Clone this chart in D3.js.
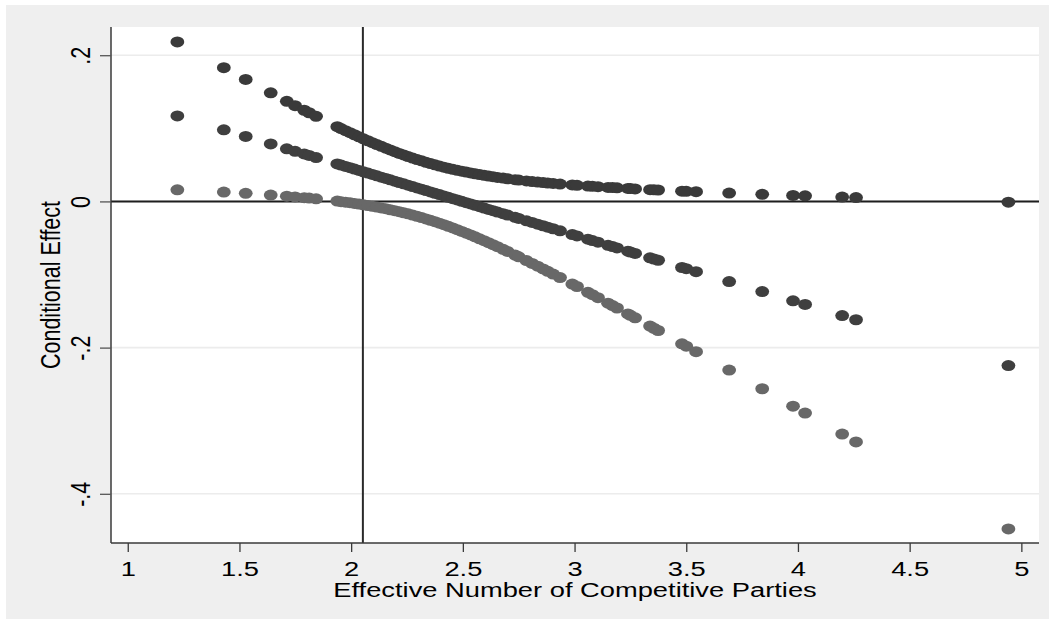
<!DOCTYPE html>
<html>
<head>
<meta charset="utf-8">
<script src="https://cdn.jsdelivr.net/npm/d3@7"></script>
<style>
  html, body { margin: 0; padding: 0; background: #ffffff; }
  svg { display: block; }
  text { font-family: "Liberation Sans", Arial, Helvetica, sans-serif; fill: #000; }
</style>
</head>
<body>
<div id="chart"></div>
<script>
// ---- data ----
const enp = [
  1.222, 1.430, 1.528, 1.640, 1.712, 1.749, 1.790, 1.812, 1.843, 1.938,
  1.955, 1.975, 1.995, 2.015, 2.035, 2.055, 2.075, 2.095, 2.115, 2.135,
  2.155, 2.175, 2.195, 2.215, 2.235, 2.255, 2.275, 2.295, 2.315, 2.335,
  2.355, 2.375, 2.395, 2.415, 2.435, 2.455, 2.475, 2.495, 2.515, 2.535,
  2.555, 2.575, 2.595, 2.615, 2.635, 2.655,
  2.680, 2.700, 2.734, 2.750, 2.785, 2.810, 2.835, 2.859, 2.880, 2.904,
  2.935, 2.990, 3.011, 3.060, 3.080, 3.105, 3.150, 3.170, 3.190, 3.239,
  3.250, 3.271, 3.338, 3.355, 3.374, 3.481, 3.500, 3.544, 3.692, 3.840,
  3.978, 4.032, 4.198, 4.260, 4.942
];
const upperBound = [
  0.2181, 0.1830, 0.1668, 0.1485, 0.1369, 0.1310, 0.1247, 0.1213, 0.1164, 0.1022,
  0.0997, 0.0968, 0.0940, 0.0912, 0.0884, 0.0856, 0.0830, 0.0804, 0.0778, 0.0753,
  0.0728, 0.0704, 0.0681, 0.0657, 0.0636, 0.0614, 0.0593, 0.0573, 0.0555, 0.0535,
  0.0518, 0.0500, 0.0484, 0.0469, 0.0453, 0.0439, 0.0426, 0.0413, 0.0401, 0.0389,
  0.0377, 0.0367, 0.0357, 0.0347, 0.0338, 0.0328,
  0.0319, 0.0310, 0.0298, 0.0292, 0.0280, 0.0272, 0.0264, 0.0258, 0.0252, 0.0246,
  0.0238, 0.0225, 0.0220, 0.0210, 0.0206, 0.0201, 0.0192, 0.0189, 0.0186, 0.0177,
  0.0175, 0.0171, 0.0161, 0.0159, 0.0156, 0.0140, 0.0138, 0.0133, 0.0114, 0.0097,
  0.0082, 0.0077, 0.0059, 0.0053, -0.0010
];
const effect = [
  0.1170, 0.0979, 0.0889, 0.0786, 0.0720, 0.0686, 0.0649, 0.0629, 0.0600, 0.0513,
  0.0497, 0.0479, 0.0461, 0.0442, 0.0424, 0.0405, 0.0387, 0.0369, 0.0350, 0.0332,
  0.0314, 0.0295, 0.0277, 0.0258, 0.0240, 0.0222, 0.0203, 0.0185, 0.0167, 0.0148,
  0.0130, 0.0111, 0.0093, 0.0075, 0.0056, 0.0038, 0.0020, 0.0001, -0.0017, -0.0035,
  -0.0054, -0.0072, -0.0090, -0.0109, -0.0127, -0.0146,
  -0.0168, -0.0187, -0.0218, -0.0233, -0.0265, -0.0288, -0.0311, -0.0333, -0.0352, -0.0374,
  -0.0402, -0.0453, -0.0472, -0.0517, -0.0535, -0.0558, -0.0600, -0.0618, -0.0636, -0.0681,
  -0.0692, -0.0711, -0.0772, -0.0788, -0.0805, -0.0904, -0.0921, -0.0961, -0.1097, -0.1233,
  -0.1360, -0.1409, -0.1562, -0.1619, -0.2245
];
const lowerBound = [
  0.0159, 0.0128, 0.0110, 0.0087, 0.0071, 0.0062, 0.0051, 0.0045, 0.0036, 0.0004,
  -0.0003, -0.0010, -0.0018, -0.0028, -0.0036, -0.0046, -0.0056, -0.0066, -0.0078, -0.0089,
  -0.0100, -0.0114, -0.0127, -0.0141, -0.0156, -0.0170, -0.0187, -0.0203, -0.0221, -0.0239,
  -0.0258, -0.0278, -0.0298, -0.0319, -0.0341, -0.0363, -0.0386, -0.0411, -0.0435, -0.0459,
  -0.0485, -0.0511, -0.0537, -0.0565, -0.0592, -0.0620,
  -0.0655, -0.0684, -0.0734, -0.0758, -0.0810, -0.0848, -0.0886, -0.0924, -0.0956, -0.0994,
  -0.1042, -0.1131, -0.1164, -0.1244, -0.1276, -0.1317, -0.1392, -0.1425, -0.1458, -0.1539,
  -0.1559, -0.1593, -0.1705, -0.1735, -0.1766, -0.1948, -0.1980, -0.2055, -0.2308, -0.2563,
  -0.2802, -0.2895, -0.3183, -0.3291, -0.4480
];
const xTicks = [1, 1.5, 2, 2.5, 3, 3.5, 4, 4.5, 5];
const xTickLabels = ["1", "1.5", "2", "2.5", "3", "3.5", "4", "4.5", "5"];
const yTicks = [0.2, 0, -0.2, -0.4];
const yTickLabels = [".2", "0", "-.2", "-.4"];
const vLineAt = 2.0525;
const hLineAt = 0;
const xTitle = "Effective Number of Competitive Parties";
const yTitle = "Conditional Effect";

// ---- layout ----
const W = 1055, H = 624;
const plot = { left: 111, right: 1039, top: 27, bottom: 543 };
const stretchX = 1.40;   // horizontal text stretch seen in the reference
const fontX = 19.5;
const stretchY = 1.30;   // for rotated text
const fontY = 21.5;

const svg = d3.select("#chart").append("svg").attr("width", W).attr("height", H);

svg.append("rect").attr("x", 6).attr("y", 5).attr("width", W - 12).attr("height", H - 10)
  .attr("fill", "#efefef");
svg.append("rect").attr("x", plot.left).attr("y", plot.top)
  .attr("width", plot.right - plot.left).attr("height", plot.bottom - plot.top)
  .attr("fill", "#ffffff");

const x = d3.scaleLinear().domain([0.925, 5.079]).range([plot.left, plot.right]);
const y = d3.scaleLinear().domain([-0.4673, 0.2386]).range([plot.bottom, plot.top]);

// gridlines
svg.append("g").selectAll("line").data(yTicks).join("line")
  .attr("x1", plot.left).attr("x2", plot.right)
  .attr("y1", d => y(d)).attr("y2", d => y(d))
  .attr("stroke", "#ececec").attr("stroke-width", 1.6);

// reference lines
svg.append("line")
  .attr("x1", plot.left).attr("x2", plot.right)
  .attr("y1", y(hLineAt)).attr("y2", y(hLineAt))
  .attr("stroke", "#1e1e1e").attr("stroke-width", 2);
svg.append("line")
  .attr("x1", x(vLineAt)).attr("x2", x(vLineAt))
  .attr("y1", plot.top).attr("y2", plot.bottom)
  .attr("stroke", "#2a2a2a").attr("stroke-width", 2);

// markers
const series = [
  { vals: upperBound, color: "#3a3a3a" },
  { vals: lowerBound, color: "#686868" },
  { vals: effect, color: "#3f3f3f" }
];
series.forEach(s => {
  svg.append("g").selectAll("ellipse").data(enp.map((v, i) => [v, s.vals[i]])).join("ellipse")
    .attr("cx", d => x(d[0])).attr("cy", d => y(d[1]))
    .attr("rx", 6.9).attr("ry", 5.5)
    .attr("fill", s.color);
});

// x axis
const xAxis = d3.axisBottom(x).tickValues(xTicks)
  .tickFormat((d, i) => xTickLabels[i]).tickSize(9).tickSizeOuter(0);
const gx = svg.append("g").attr("transform", `translate(0,${plot.bottom})`).call(xAxis);
gx.select(".domain").attr("d", `M${plot.left},0H${plot.right}`)
  .attr("stroke", "#3a3a3a").attr("stroke-width", 1.5);
gx.selectAll(".tick line").attr("stroke", "#3a3a3a").attr("stroke-width", 1.3);
gx.selectAll(".tick text")
  .attr("y", 0).attr("dy", 0)
  .attr("transform", `translate(0,33) scale(${stretchX},1)`)
  .attr("font-size", fontX).attr("font-family", "Liberation Sans, Arial, sans-serif")
  .attr("fill", "#000").attr("text-anchor", "middle");

// y axis
const yAxis = d3.axisLeft(y).tickValues(yTicks)
  .tickFormat((d, i) => yTickLabels[i]).tickSize(11).tickSizeOuter(0);
const gy = svg.append("g").attr("transform", `translate(${plot.left},0)`).call(yAxis);
gy.select(".domain").attr("d", `M0,${plot.top}V${plot.bottom}`)
  .attr("stroke", "#3a3a3a").attr("stroke-width", 1.5);
gy.selectAll(".tick line").attr("stroke", "#555").attr("stroke-width", 1.3);
gy.selectAll(".tick text")
  .attr("x", 0).attr("dy", 0)
  .attr("transform", `translate(-21.5,0) scale(${stretchY},1) rotate(-90)`)
  .attr("font-size", fontY).attr("font-family", "Liberation Sans, Arial, sans-serif")
  .attr("fill", "#000").attr("text-anchor", "middle");

// titles
svg.append("text")
  .attr("transform", `translate(${(plot.left + plot.right) / 2},597) scale(${stretchX},1)`)
  .attr("text-anchor", "middle").attr("font-size", fontX)
  .text(xTitle);
svg.append("text")
  .attr("transform", `translate(60,${(plot.top + plot.bottom) / 2}) scale(${stretchY},1) rotate(-90)`)
  .attr("text-anchor", "middle").attr("font-size", fontY)
  .text(yTitle);
</script>
</body>
</html>
